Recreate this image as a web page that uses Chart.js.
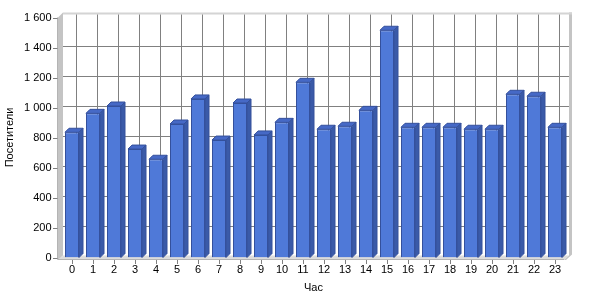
<!DOCTYPE html>
<html>
<head>
<meta charset="utf-8">
<script src="https://cdn.jsdelivr.net/npm/chart.js@4"></script>
<style>
html,body{margin:0;padding:0;background:#fff;}
#wrap{width:600px;height:300px;}
</style>
</head>
<body>
<div id="wrap"><canvas id="c" width="600" height="300"></canvas></div>
<script>
const hours = ['0','1','2','3','4','5','6','7','8','9','10','11','12','13','14','15','16','17','18','19','20','21','22','23'];
const visitors = [835, 961, 1010, 723, 655, 890, 1057, 783, 1030, 817, 901, 1168, 855, 875, 981, 1515, 868, 868, 868, 855, 855, 1088, 1075, 868];
const yTicks = [0, 200, 400, 600, 800, 1000, 1200, 1400, 1600];
const yTickLabels = ['0', '200', '400', '600', '800', '1 000', '1 200', '1 400', '1 600'];
const xTitle = 'Час';
const yTitle = 'Посетители';

const FONT = '"Liberation Sans", Arial, sans-serif';
const GDX = 4, GDY = -2;     // back wall offset for grid
const BDX = 4, BDY = -4;     // bar depth

const threeD = {
  id: 'threeD',
  beforeDatasetsDraw(chart) {
    const {ctx, chartArea: a, scales: {x, y}} = chart;
    const L = 58, R = a.right - 0.5;
    const bottomFront = 260, topBack = 12.5;
    const backL = L + 5, backR = R + 4, backB = y.getPixelForValue(0) + GDY;
    ctx.save();
    // left wall
    ctx.fillStyle = '#c4c4c4';
    ctx.beginPath();
    ctx.moveTo(L, a.top); ctx.lineTo(backL, topBack); ctx.lineTo(backL, backB);
    ctx.lineTo(L, bottomFront); ctx.closePath(); ctx.fill();
    // floor
    ctx.fillStyle = '#dcdcdc';
    ctx.beginPath();
    ctx.moveTo(L, bottomFront); ctx.lineTo(backL, backB); ctx.lineTo(backR, backB);
    ctx.lineTo(backR - 5, bottomFront); ctx.closePath(); ctx.fill();
    // right wall
    ctx.fillStyle = '#c4c4c4';
    ctx.beginPath();
    ctx.moveTo(backR, topBack); ctx.lineTo(backR + 3, topBack); ctx.lineTo(backR + 3, backB - 1);
    ctx.lineTo(backR - 3, bottomFront); ctx.lineTo(backR - 5, bottomFront); ctx.lineTo(backR, backB);
    ctx.closePath(); ctx.fill();
    // top edge
    ctx.fillStyle = '#d4d4d4';
    ctx.fillRect(backL, topBack, backR - backL + 3, 2);
    // back grid
    ctx.strokeStyle = '#808080';
    ctx.lineWidth = 1;
    ctx.beginPath();
    yTicks.forEach(v => {
      if (v === 0 || v === 1600) return;
      const py = Math.round(y.getPixelForValue(v) + GDY) + 0.5;
      ctx.moveTo(backL, py); ctx.lineTo(backR, py);
    });
    hours.forEach((h, i) => {
      const px = Math.round(x.getPixelForValue(i) + GDX) + 0.5;
      ctx.moveTo(px, topBack + 2); ctx.lineTo(px, backB);
    });
    ctx.stroke();
    // front axis lines
    ctx.strokeStyle = '#b4b4b4';
    ctx.beginPath();
    ctx.moveTo(L - 0.5, a.top); ctx.lineTo(L - 0.5, bottomFront - 0.5);
    ctx.lineTo(backR - 5, bottomFront - 0.5);
    ctx.stroke();
    // tick marks
    ctx.strokeStyle = '#808080';
    ctx.beginPath();
    yTicks.forEach(v => {
      const py = Math.round(y.getPixelForValue(v)) + 0.5;
      ctx.moveTo(L - 5, py); ctx.lineTo(L - 0.5, py);
    });
    hours.forEach((h, i) => {
      const px = Math.round(x.getPixelForValue(i)) + 0.5;
      ctx.moveTo(px, bottomFront); ctx.lineTo(px, bottomFront + 4);
    });
    ctx.stroke();
    ctx.restore();
  },
  afterDatasetsDraw(chart) {
    const {ctx} = chart;
    const meta = chart.getDatasetMeta(0);
    ctx.save();
    ctx.lineWidth = 1;
    meta.data.forEach(bar => {
      const {x, y, base, width} = bar.getProps(['x', 'y', 'base', 'width'], true);
      const l = x - width / 2, r = x + width / 2;
      // top face
      ctx.fillStyle = '#4669c6';
      ctx.strokeStyle = '#34509c';
      ctx.beginPath();
      ctx.moveTo(l, y); ctx.lineTo(l + BDX, y + BDY); ctx.lineTo(r + BDX, y + BDY); ctx.lineTo(r, y);
      ctx.closePath(); ctx.fill(); ctx.stroke();
      // side face
      ctx.fillStyle = '#3a5aa8';
      ctx.beginPath();
      ctx.moveTo(r, y); ctx.lineTo(r + BDX, y + BDY); ctx.lineTo(r + BDX, base + BDY); ctx.lineTo(r, base);
      ctx.closePath(); ctx.fill(); ctx.stroke();
    });
    ctx.restore();
  }
};

new Chart(document.getElementById('c'), {
  type: 'bar',
  data: {
    labels: hours,
    datasets: [{
      data: visitors,
      backgroundColor: '#4f79d8',
      borderColor: '#34509c',
      borderWidth: 1,
      categoryPercentage: 1,
      barPercentage: 14 / 21
    }]
  },
  options: {
    responsive: false,
    animation: false,
    devicePixelRatio: 1,
    layout: {padding: {top: 17.5, right: 34.5, left: 0, bottom: 0}},
    plugins: {legend: {display: false}, tooltip: {enabled: false}},
    scales: {
      x: {
        grid: {display: false, drawTicks: false},
        border: {display: false},
        ticks: {color: '#000', font: {family: FONT, size: 11}, padding: 6, maxRotation: 0, autoSkip: false},
        title: {display: true, text: xTitle, color: '#000', font: {family: FONT, size: 11}, padding: {top: 0, bottom: 5}},
        afterFit(s) { s.height = 42.5; }
      },
      y: {
        min: 0, max: 1600,
        afterBuildTicks(s) { s.ticks = yTicks.map(v => ({value: v})); },
        grid: {display: false, drawTicks: false},
        border: {display: false},
        ticks: {
          color: '#000', font: {family: FONT, size: 11}, padding: 10,
          callback: (v) => yTickLabels[yTicks.indexOf(v)]
        },
        title: {display: true, text: yTitle, color: '#000', font: {family: FONT, size: 11}, padding: {top: 3, bottom: 0}},
        afterFit(s) { s.width = 61.5; }
      }
    }
  },
  plugins: [threeD]
});
</script>
</body>
</html>
